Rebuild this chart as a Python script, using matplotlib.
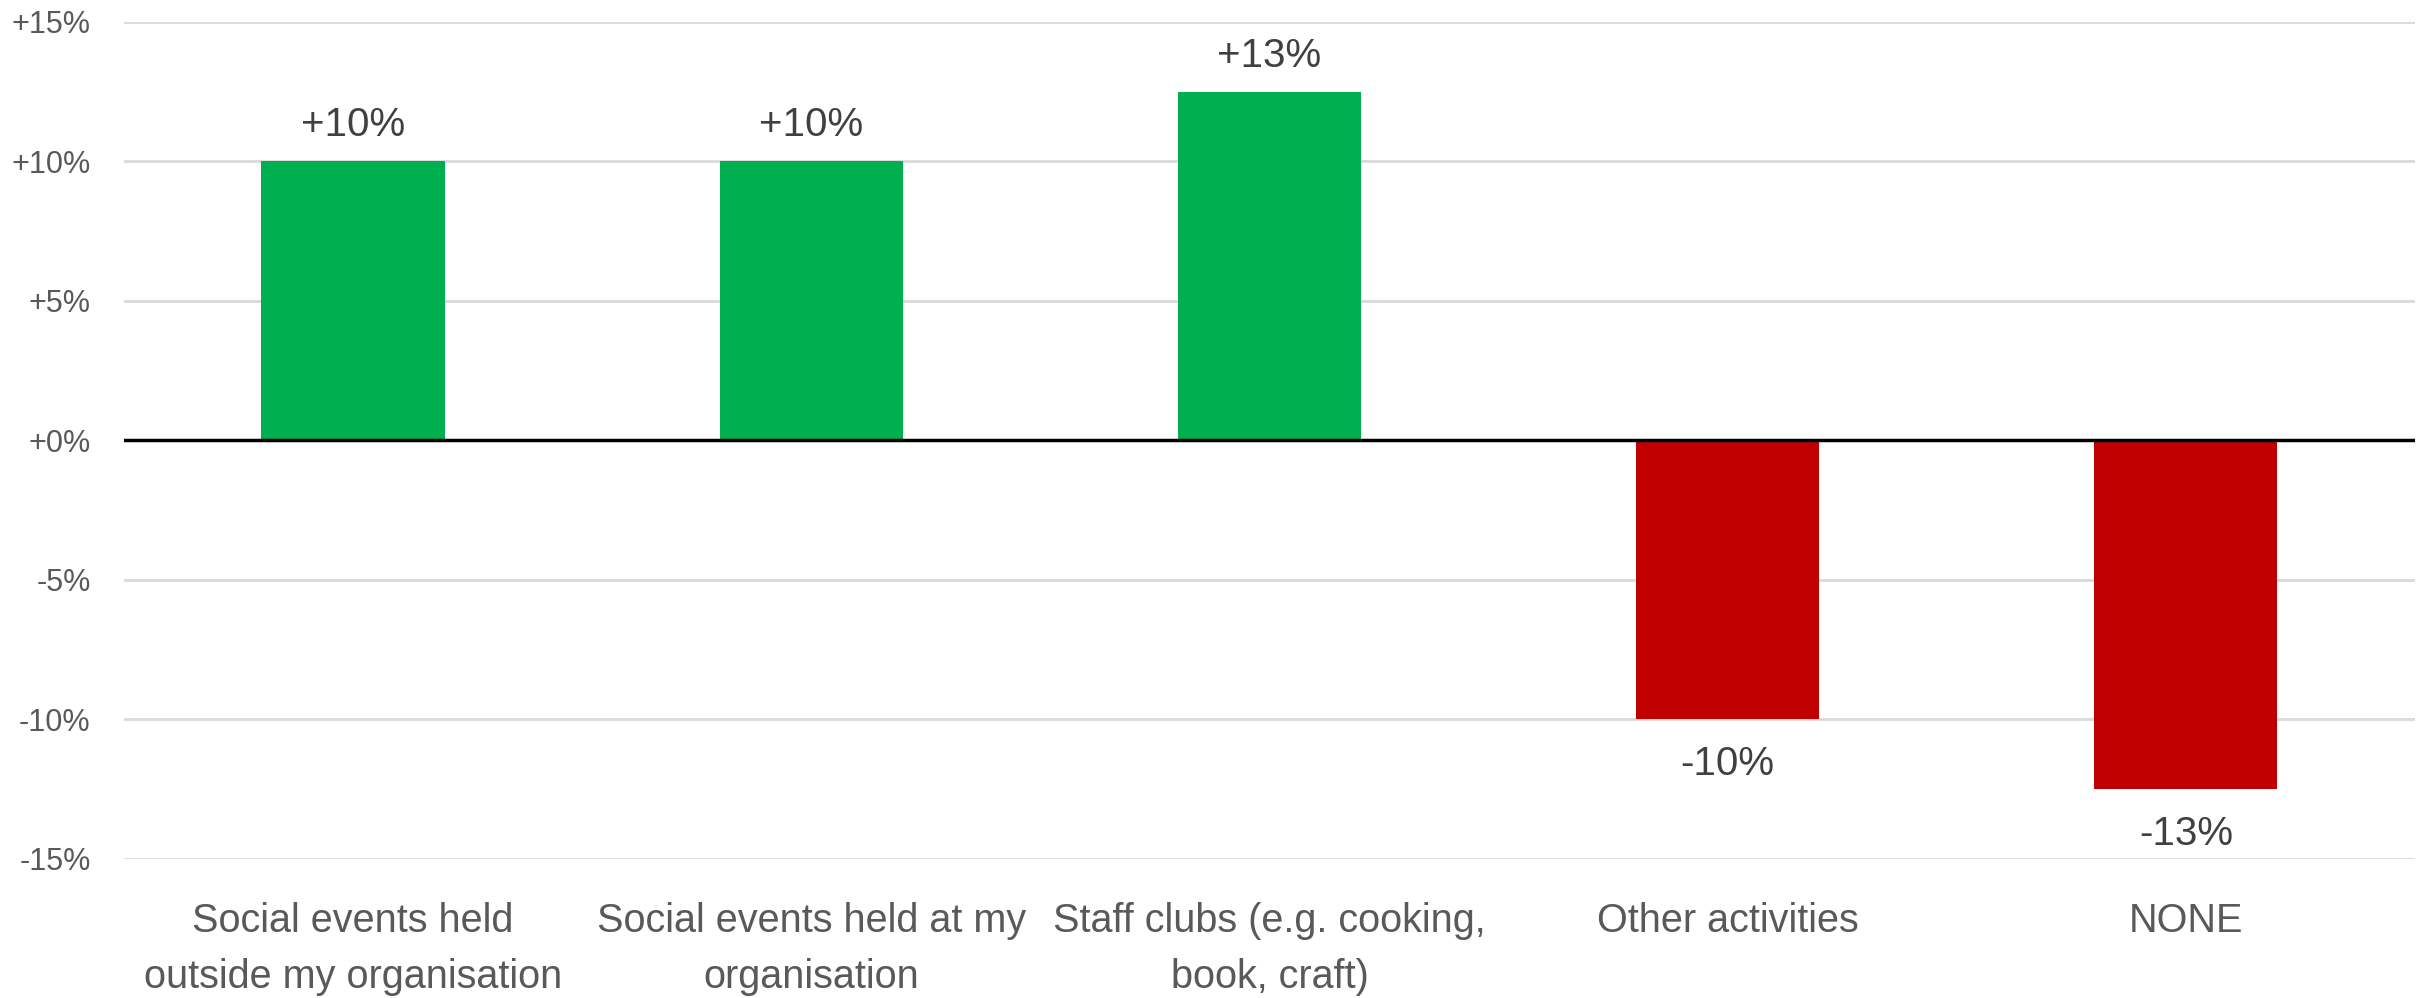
import matplotlib
matplotlib.use("Agg")
import matplotlib.pyplot as plt
from matplotlib import font_manager
from matplotlib.ticker import MultipleLocator, FuncFormatter

# data
categories = ["Social events held\noutside my organisation",
              "Social events held at my\norganisation",
              "Staff clubs (e.g. cooking,\nbook, craft)",
              "Other activities",
              "NONE"]
values = [10, 10, 12.5, -10, -12.5]
labels = ["+10%", "+10%", "+13%", "-10%", "-13%"]

GREEN = "#00B050"
RED = "#C00000"
TEXT = "#595959"

names = {f.name for f in font_manager.fontManager.ttflist}
font = "Liberation Sans Narrow" if "Liberation Sans Narrow" in names else "Liberation Sans"
plt.rcParams["font.family"] = [font, "DejaVu Sans"]

fig = plt.figure(figsize=(24.27, 9.98), dpi=100)
ax = fig.add_axes([0.0511, 0.1393, 0.9439, 0.8387])

x = range(len(categories))
colors = [GREEN if v >= 0 else RED for v in values]
bars = ax.bar(x, values, width=0.4, color=colors, zorder=3)

# value labels above / below the bars
for b, v, lab in zip(bars, values, labels):
    cx = b.get_x() + b.get_width() / 2
    off = 26 if v >= 0 else -32
    ax.annotate(lab, (cx, v), xytext=(0, off), textcoords="offset points",
                ha="center", va="center", fontsize=29, color="#404040")

ax.set_xlim(-0.5, len(categories) - 0.5)
ax.set_ylim(-15, 15)
ax.yaxis.set_major_locator(MultipleLocator(5))
ax.yaxis.set_major_formatter(FuncFormatter(lambda v, p: "%+d%%" % round(v) if round(v) != 0 else "+0%"))
ax.grid(axis="y", color="#D9D9D9", linewidth=2, zorder=0)
ax.axhline(0, color="black", linewidth=2.5, zorder=4)

for s in ax.spines.values():
    s.set_visible(False)
ax.tick_params(axis="both", length=0)
ax.tick_params(axis="y", labelsize=22, labelcolor=TEXT, pad=24)
ax.set_xticks(list(x))
ax.set_xticklabels(categories, fontsize=28.5, color=TEXT, linespacing=1.6)
ax.tick_params(axis="x", pad=31)

fig.savefig("out.png", dpi=100, facecolor="white")
